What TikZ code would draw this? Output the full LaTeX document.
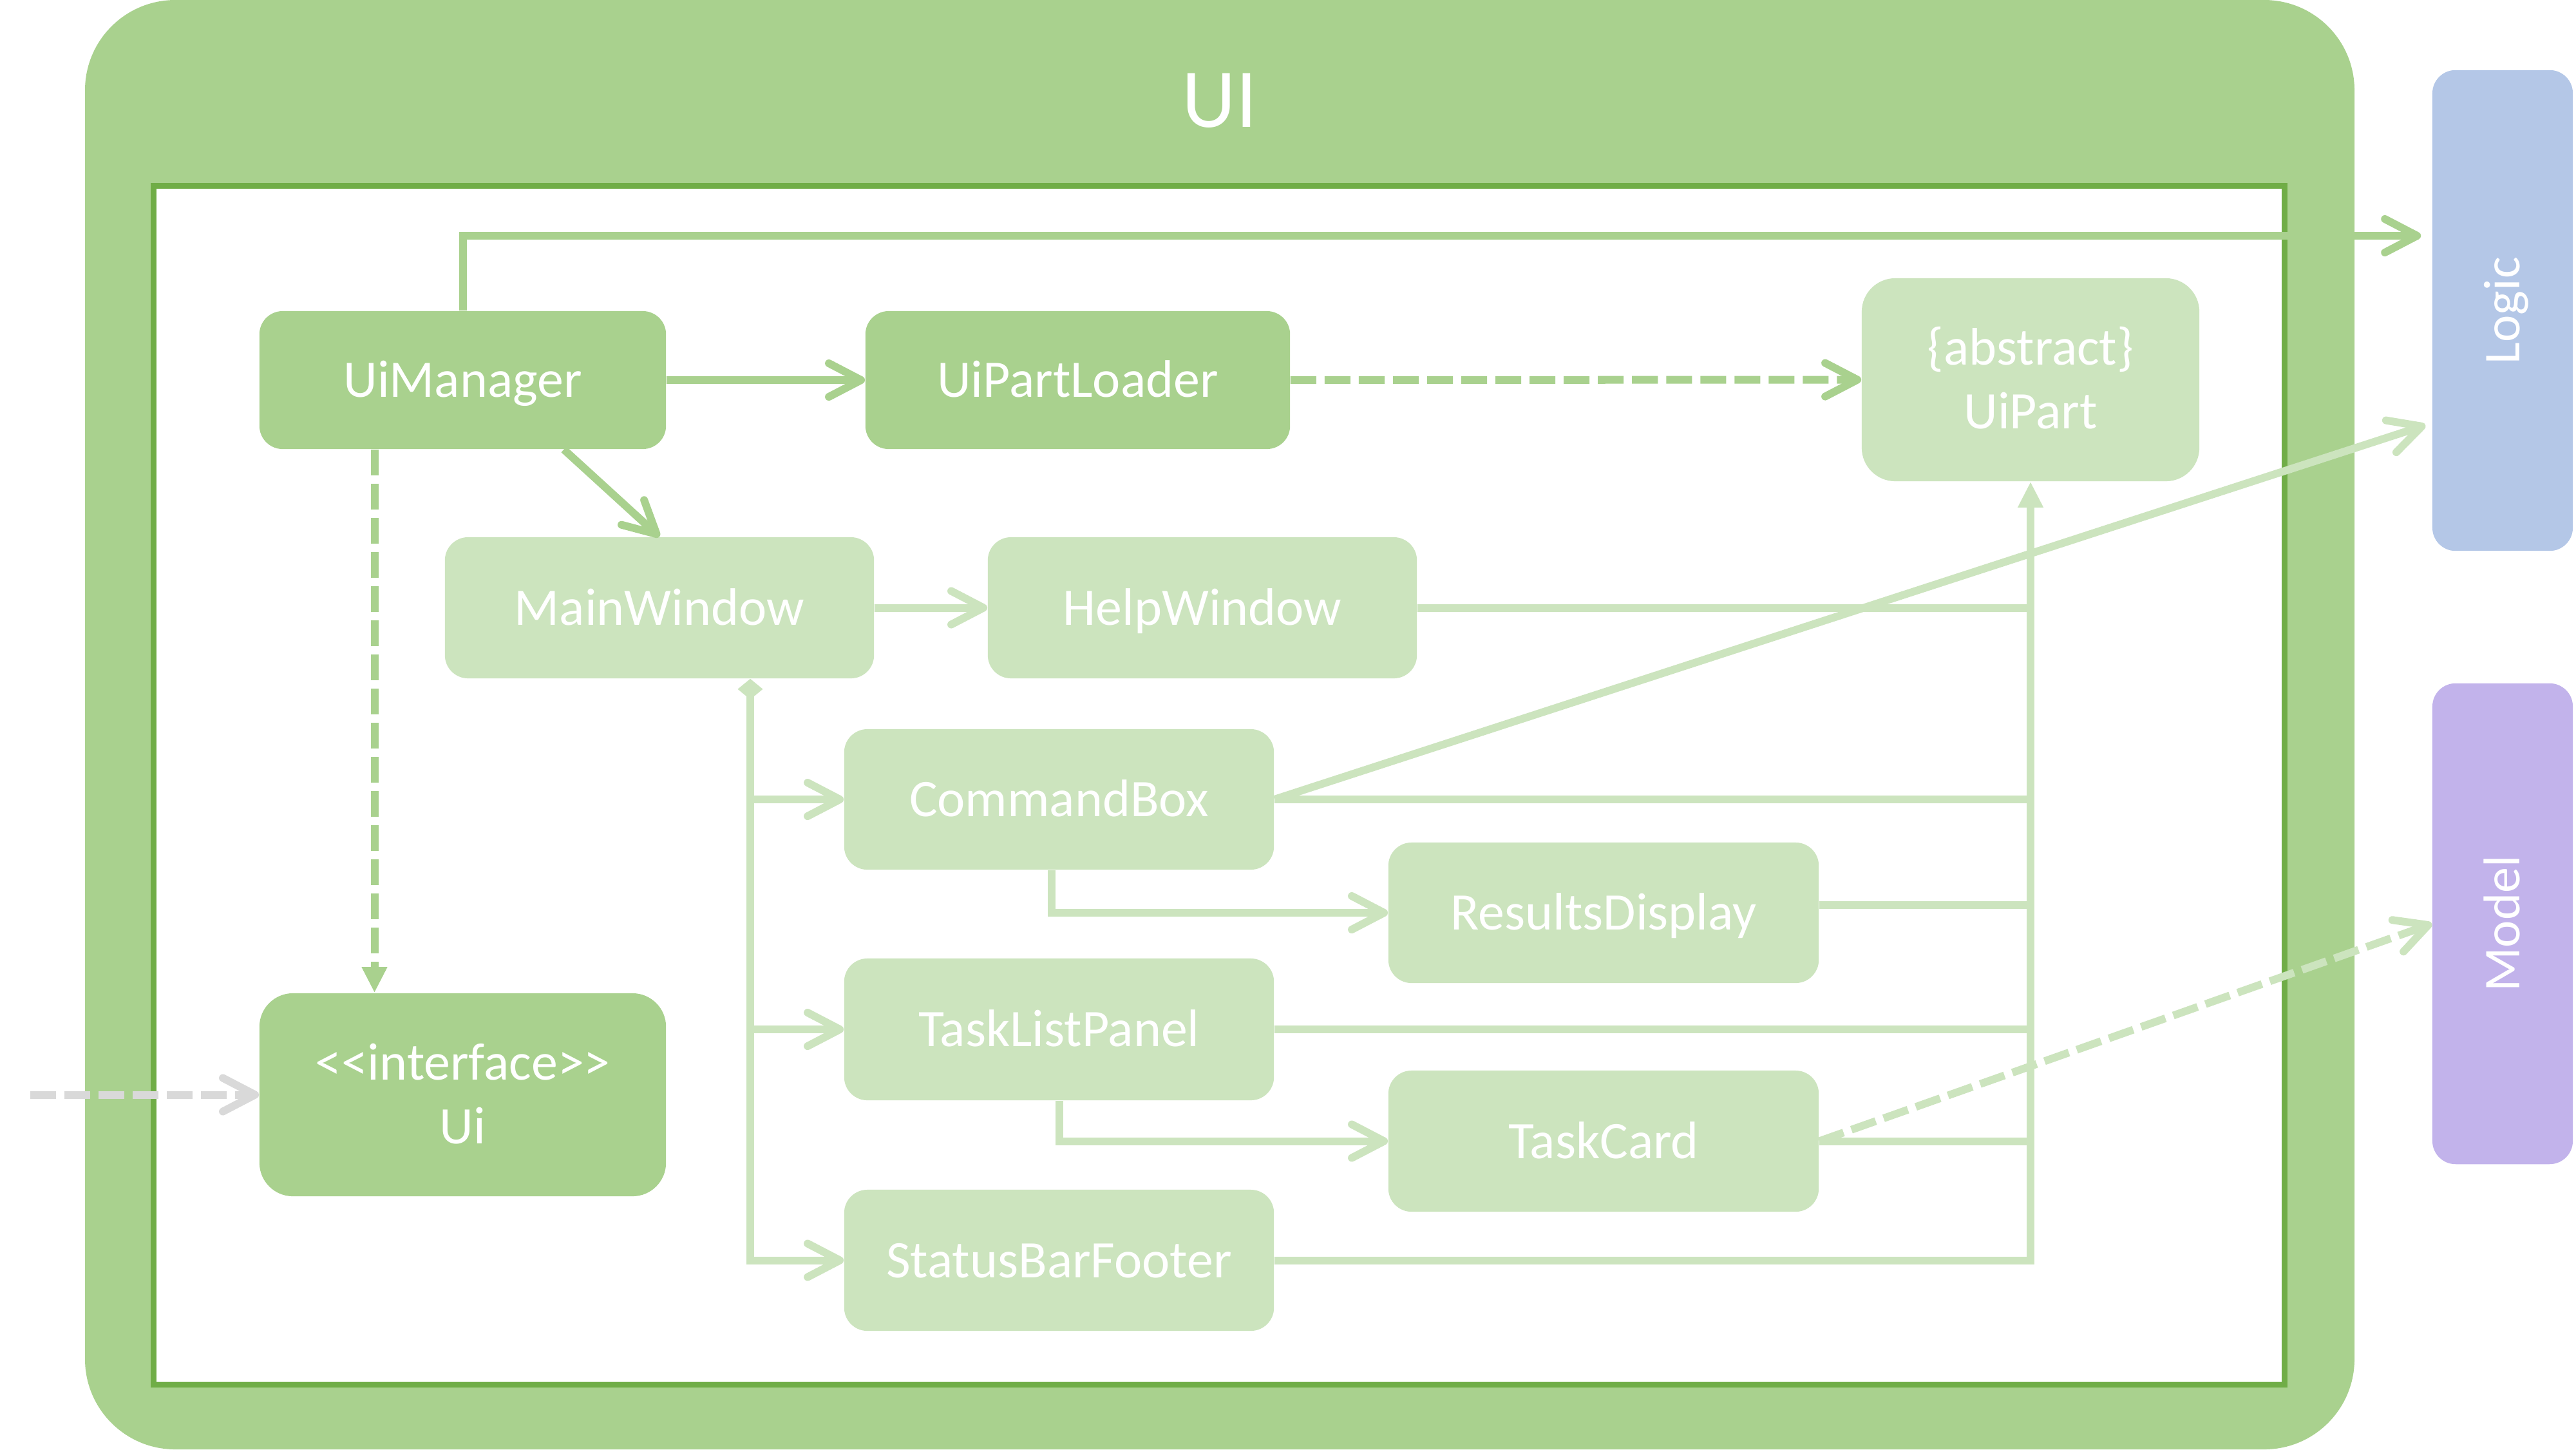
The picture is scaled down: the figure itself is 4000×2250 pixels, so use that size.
\documentclass[tikz,border=0pt]{standalone}
\usepackage{fontspec}
\setmainfont{Carlito}
\usetikzlibrary{arrows.meta,calc}
\definecolor{uigreen}{HTML}{A9D18E}
\definecolor{borderg}{HTML}{70AD47}
\definecolor{lightg}{HTML}{CCE4BE}
\definecolor{logicblue}{HTML}{B4C7E7}
\definecolor{modelpurple}{HTML}{C2B3EB}
\definecolor{greyd}{HTML}{D9D9D9}
\newcommand{\boxfont}{\fontsize{23.3pt}{28.1pt}\selectfont}
\newcommand{\titlefont}{\fontsize{37pt}{44pt}\selectfont}
\newcommand{\sidefont}{\fontsize{22.8pt}{27pt}\selectfont}
\begin{document}
\begin{tikzpicture}[x=0.01cm,y=-0.01cm,
  >={Straight Barb[length=0.5cm,width=0.52cm,round]},
  basebox/.style={inner sep=0pt, text=white, font=\boxfont, text height=0.53cm, text depth=0cm, rounded corners=0.36cm},
  darkbox/.style={basebox, fill=uigreen},
  lightbox/.style={basebox, fill=lightg},
  twoline/.style={align=center, text height=1.52cm, text depth=0cm, rounded corners=0.52cm},
  sidebox/.style={inner sep=0pt, rounded corners=0.36cm, minimum width=2.18cm, minimum height=7.46cm},
  sidetext/.style={text=white, font=\sidefont, inner sep=0pt, text height=0.52cm, text depth=0cm, rotate=90},
  darkline/.style={draw=uigreen, line width=0.12cm},
  lightline/.style={draw=lightg, line width=0.12cm},
  greyline/.style={draw=greyd, line width=0.12cm},
  dsh/.style={dash pattern=on 0.4cm off 0.13cm},
  tri/.style={-{Triangle[length=0.4cm,width=0.37cm]}}
]
\useasboundingbox (0,0) rectangle (4000,2250);
% frame
\fill[uigreen, rounded corners=1.4cm] (132,0) rectangle (3656,2250);
\draw[draw=borderg, line width=0.09cm, fill=white] (238.5,288.5) rectangle (3547.5,2149.5);
\node[font=\titlefont, text=white, inner sep=0pt, text height=0.84cm, text depth=0cm] (title) at (1894,155) {UI};
% side components
\node[sidebox, fill=logicblue] (Logic) at (3886,482) {};
\node[sidetext] (logictext) at (Logic.center) {Logic};
\node[sidebox, fill=modelpurple] (Model) at (3886,1434) {};
\node[sidetext] (modeltext) at (Model.center) {Model};
% classes
\node[darkbox, minimum width=6.31cm, minimum height=2.14cm] (UiManager) at (718.5,590) {UiManager};
\node[darkbox, minimum width=6.59cm, minimum height=2.14cm] (UiPartLoader) at (1673.5,590) {UiPartLoader};
\node[lightbox, twoline, minimum width=5.24cm, minimum height=3.15cm] (UiPart) at (3153,589.5) {\{abstract\}\\UiPart};
\node[lightbox, minimum width=6.66cm, minimum height=2.19cm] (MainWindow) at (1024,943.5) {MainWindow};
\node[lightbox, minimum width=6.66cm, minimum height=2.19cm] (HelpWindow) at (1867,943.5) {HelpWindow};
\node[lightbox, minimum width=6.67cm, minimum height=2.18cm] (CommandBox) at (1644.5,1241) {CommandBox};
\node[lightbox, minimum width=6.68cm, minimum height=2.18cm] (ResultsDisplay) at (2490,1417) {ResultsDisplay};
\node[lightbox, minimum width=6.67cm, minimum height=2.2cm] (TaskListPanel) at (1644.5,1598) {TaskListPanel};
\node[lightbox, minimum width=6.68cm, minimum height=2.19cm] (TaskCard) at (2490,1771.5) {TaskCard};
\node[lightbox, minimum width=6.67cm, minimum height=2.19cm] (StatusBarFooter) at (1644.5,1956.5) {StatusBarFooter};
\node[darkbox, twoline, minimum width=6.31cm, minimum height=3.15cm] (Ui) at (718.5,1699.5) {<\kern0pt<interface>\kern0pt>\\Ui};
% helper coordinates
\coordinate (logtop) at ($(Logic.west)+(-17,-116)$);
\coordinate (login) at ($(Logic.west)+(-10,178)$);
\coordinate (greystart) at (47,1699.5);
\coordinate (mwd) at ($(MainWindow.south)+(141,0)$);
\coordinate (mwd2) at ($(mwd)+(0,40)$);
% dark connectors
\draw[darkline,->] (UiManager.north) |- (logtop);
\draw[darkline,->] (UiManager.east) -- (UiPartLoader.west);
\draw[darkline,dsh,->] (UiPartLoader.east) -- (UiPart.west);
\draw[darkline,->] ($(UiManager.south)+(157,0)$) -- (MainWindow.north);
\draw[darkline,dsh,tri] ($(UiManager.south)+(-137,0)$) -- ($(Ui.north)+(-137,0)$);
\draw[greyline,dsh,->] (greystart) -- (Ui.west);
% light connectors
\draw[lightline,->] (MainWindow.east) -- (HelpWindow.west);
\draw[lightline,{Diamond[length=0.32cm,width=0.39cm]}->] (mwd) |- (StatusBarFooter.west);
\draw[lightline,->] (mwd2) |- (CommandBox.west);
\draw[lightline,->] (mwd2) |- (TaskListPanel.west);
\draw[lightline,->] ($(CommandBox.south)+(-12,0)$) |- (ResultsDisplay.west);
\draw[lightline,->] (TaskListPanel.south) |- (TaskCard.west);
% bus to UiPart
\draw[lightline,tri] (StatusBarFooter.east) -| (UiPart.south);
\draw[lightline] (HelpWindow.east) -- (HelpWindow.east -| UiPart.south);
\draw[lightline] (CommandBox.east) -- (CommandBox.east -| UiPart.south);
\draw[lightline] ($(ResultsDisplay.east)+(0,-12)$) coordinate (rdo) -- (rdo -| UiPart.south);
\draw[lightline] (TaskListPanel.east) -- (TaskListPanel.east -| UiPart.south);
\draw[lightline] (TaskCard.east) -- (TaskCard.east -| UiPart.south);
% to Logic and Model
\draw[lightline,->] (CommandBox.east) -- (login);
\draw[lightline,dsh,->] (TaskCard.east) -- (Model.west);
\end{tikzpicture}
\end{document}
